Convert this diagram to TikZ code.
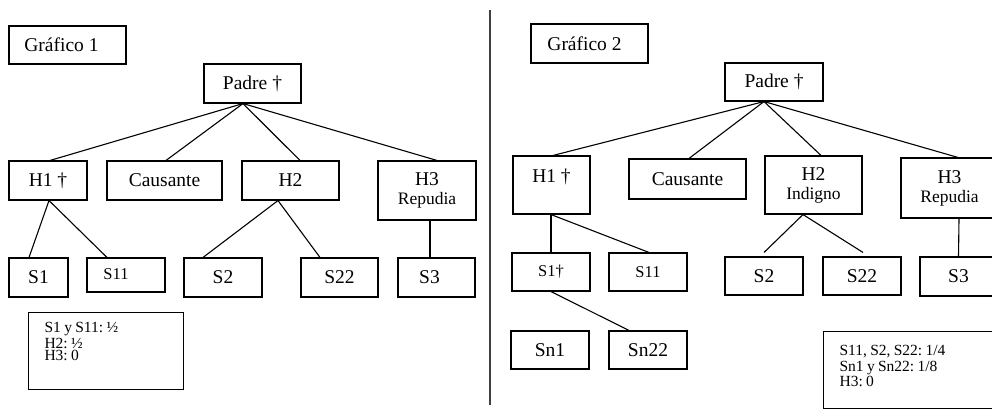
\documentclass[tikz,border=0pt]{standalone}
\usepackage{fontspec}
\setmainfont{Liberation Serif}
\frenchspacing
\newcommand\fmain{\fontsize{19.5}{21}\selectfont}
\newcommand\fsm{\fontsize{16.5}{19}\selectfont}
\newcommand\frep{\fontsize{17.5}{19}\selectfont}
\newcommand\fnoteA{\fontsize{15.5}{15.5}\selectfont}
\newcommand\fnoteB{\fontsize{15.5}{16}\selectfont}
\begin{document}
\begin{tikzpicture}[x=1pt,y=-1pt,
  bx/.style={draw, line width=1.1pt, inner sep=0pt, font=\fmain},
  ln/.style={line width=1.1pt},
  divider/.style={line width=2pt, draw=black!75},
  notebox/.style={draw, line width=1.1pt, anchor=north west, inner xsep=16pt, inner ysep=0pt, align=left}]
\useasboundingbox (0,0) rectangle (992,410);
\fill[white] (0,0) rectangle (992,410);
\clip (0,0) rectangle (992,410);

% ---------- Gráfico 1 ----------
\node[bx, minimum width=117pt, minimum height=38pt] (G1) at (67.5,45) {Gráfico 1\hspace*{12pt}};
\node[bx, minimum width=97pt, minimum height=39pt] (P1) at (252.5,83.5) {Padre †};
\node[bx, minimum width=78pt, minimum height=39pt] (H1) at (48,180.5) {H1 †};
\node[bx, minimum width=115pt, minimum height=39pt] (Ca) at (164.5,180.5) {Causante};
\node[bx, minimum width=97pt, minimum height=39pt] (H2) at (290.5,180.5) {H2};
\node[bx, minimum width=98pt, minimum height=59pt, align=center] (H3) at (427,190.5) {H3\\[-2pt]{\frep Repudia}};
\node[bx, minimum width=59pt, minimum height=39pt] (S1) at (38.5,277.5) {S1};
\node[bx, minimum width=78pt, minimum height=34pt] (S11) at (126,275) {\fsm\raisebox{2pt}{S11}\hspace*{20pt}};
\node[bx, minimum width=78pt, minimum height=39pt] (S2) at (223,277.5) {S2};
\node[bx, minimum width=77pt, minimum height=39pt] (S22) at (339.5,277.5) {S22};
\node[bx, minimum width=77pt, minimum height=39pt] (S3) at (436.5,277.5) {S3\hspace*{14pt}};
\node[notebox, minimum width=155pt, text width=123pt, text height=20pt, text depth=57pt] (N1) at (28,312)
  {\fnoteA S1 y S11: ½\\H2: ½\\H3: 0};

\draw[ln] ([xshift=-9.5pt]P1.south) -- ([xshift=2pt]H1.north);
\draw[ln] ([xshift=-9.5pt]P1.south) -- ([xshift=1.5pt]Ca.north);
\draw[ln] ([xshift=-9.5pt]P1.south) -- ([xshift=9.5pt]H2.north);
\draw[ln] ([xshift=-9.5pt]P1.south) -- ([xshift=10pt]H3.north);
\draw[ln] ([xshift=1pt]H1.south) -- ([xshift=-9.5pt]S1.north);
\draw[ln] ([xshift=1pt]H1.south) -- ([xshift=-19pt]S11.north);
\draw[ln] ([xshift=-12.5pt]H2.south) -- ([xshift=-20pt]S2.north);
\draw[ln] ([xshift=-12.5pt]H2.south) -- ([xshift=-19.5pt]S22.north);
\draw[ln] ([xshift=3pt]H3.south) -- ([xshift=-6.5pt]S3.north);

% ---------- divider ----------
\coordinate (dt) at (490,10);
\coordinate (db) at (490,405);
\draw[divider] (dt) -- (db);

% ---------- Gráfico 2 ----------
\node[bx, minimum width=117pt, minimum height=39pt] (G2) at (589.5,43.5) {Gráfico 2\hspace*{10pt}};
\node[bx, minimum width=98pt, minimum height=38pt] (P2) at (774,82) {Padre †};
\node[bx, minimum width=77pt, minimum height=58pt, text height=14pt, text depth=20pt] (H1r) at (551.5,185) {H1 †};
\node[bx, minimum width=117pt, minimum height=40pt] (Car) at (687.5,179) {Causante};
\node[bx, minimum width=97pt, minimum height=58pt, align=center] (H2r) at (813.5,185) {H2\\[-2pt]{\frep Indigno}};
\node[bx, minimum width=97pt, minimum height=60pt, align=center] (H3r) at (949.5,188) {H3\\[-2pt]{\frep Repudia}};
\node[bx, minimum width=78pt, minimum height=38pt] (S1d) at (551,272) {\fsm S1†};
\node[bx, minimum width=78pt, minimum height=38pt] (S11r) at (648,272) {\fsm S11};
\node[bx, minimum width=78pt, minimum height=38pt] (Sn1) at (550,350) {Sn1};
\node[bx, minimum width=78pt, minimum height=38pt] (Sn22) at (648,350) {Sn22};
\node[bx, minimum width=78pt, minimum height=38pt] (S2r) at (764,276) {S2};
\node[bx, minimum width=78pt, minimum height=38pt] (S22r) at (862,276) {S22};
\node[bx, minimum width=77pt, minimum height=39pt] (S3r) at (958.5,276.5) {S3};
\node[notebox, minimum width=180pt, text width=148pt, text height=24pt, text depth=53pt] (N2) at (823,331)
  {\fnoteB S11, S2, S22: 1/4\\Sn1 y Sn22: 1/8\\H3: 0};

\draw[ln] ([xshift=-10pt]P2.south) -- ([xshift=1.5pt]H1r.north);
\draw[ln] ([xshift=-10pt]P2.south) -- ([xshift=1.5pt]Car.north);
\draw[ln] ([xshift=-10pt]P2.south) -- ([xshift=7.5pt]H2r.north);
\draw[ln] ([xshift=-10pt]P2.south) -- ([xshift=8.5pt]H3r.north);
\draw[ln] ([xshift=-0.5pt]H1r.south) -- (S1d.north);
\draw[ln] ([xshift=-0.5pt]H1r.south) -- ([xshift=1pt]S11r.north);
\draw[ln] (S1d.south) -- ([xshift=-19pt]Sn22.north);
\draw[ln] ([xshift=-10.5pt]H2r.south) -- ([yshift=4pt]S2r.north);
\draw[ln] ([xshift=-10.5pt]H2r.south) -- ([xshift=1pt,yshift=4pt]S22r.north);
\draw[ln] ([xshift=9.5pt]H3r.south) -- (S3r.north);
\end{tikzpicture}
\end{document}
